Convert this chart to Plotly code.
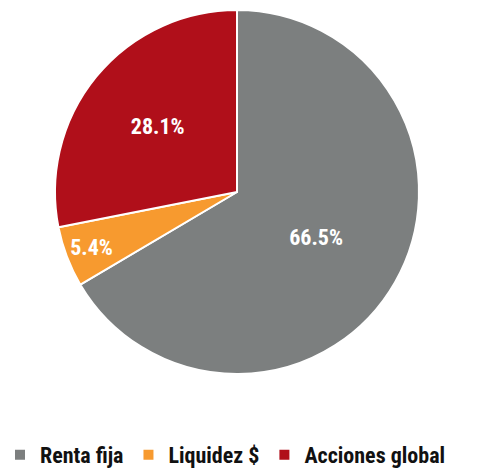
import plotly.graph_objects as go

labels = ["Renta fija", "Liquidez $", "Acciones global"]
values = [66.5, 5.4, 28.1]
colors = ["#7c7f7f", "#f79a2f", "#b00f1a"]

FONT = "Roboto Condensed, Open Sans Condensed, Roboto, sans-serif"

fig = go.Figure(go.Pie(
    labels=labels,
    values=values,
    sort=False,
    direction="clockwise",
    rotation=0,
    marker=dict(colors=colors, line=dict(color="white", width=2)),
    texttemplate="%{value:.1f}%",
    textposition="inside",
    insidetextorientation="horizontal",
    textfont=dict(family=FONT, size=22, color="white", weight="bold"),
    domain=dict(x=[55/480, 419/480], y=[1-374/468, 1-10/468]),
    hoverinfo="label+percent",
))

fig.update_layout(
    width=480, height=468,
    margin=dict(l=0, r=0, t=0, b=0, autoexpand=False),
    paper_bgcolor="white",
    plot_bgcolor="white",
    showlegend=True,
    legend=dict(
        orientation="h",
        x=0, xanchor="left",
        y=1-455/468, yanchor="middle",
        font=dict(family=FONT, size=22, color="#111111", weight="bold"),
        traceorder="normal",
    ),
)

fig.write_html("out.html", config={"displayModeBar": False},
               post_script="document.body.style.margin='0';")
